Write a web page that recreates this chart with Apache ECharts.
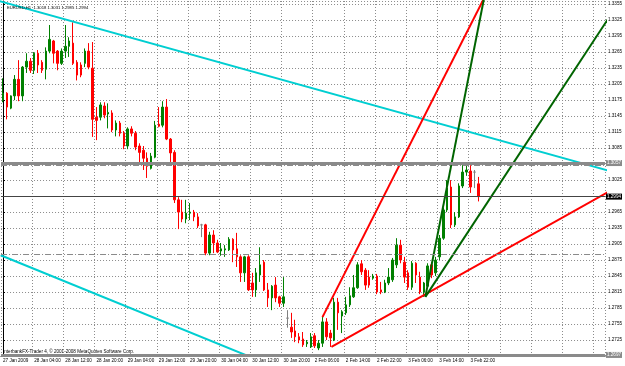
<!DOCTYPE html>
<html>
<head>
<meta charset="utf-8">
<script src="https://cdn.jsdelivr.net/npm/echarts@6/dist/echarts.min.js"></script>
<style>
html, body { margin: 0; padding: 0; background: #fff; }
#container { width: 625px; height: 366px; }
</style>
</head>
<body>
<div id="container"></div>
<script>
/* EURUSD H1 bars */
var opens = [1.3175,1.3188,1.3160,1.3183,1.3214,1.3183,1.3237,1.3248,1.3231,1.3263,
  1.3246,1.3233,1.3267,1.3286,1.3267,1.3244,1.3267,1.3276,1.3282,1.3246,
  1.3241,1.3244,1.3267,1.3235,1.3143,1.3143,1.3164,1.3149,1.3151,1.3119,
  1.3132,1.3113,1.3089,1.3121,1.3113,1.3089,1.3081,1.3066,1.3047,1.3068,
  1.3130,1.3128,1.3162,1.3102,1.3077,1.2988,1.2965,1.2952,1.2963,1.2965,
  1.2956,1.2941,1.2941,1.2888,1.2922,1.2907,1.2892,1.2894,1.2894,1.2914,
  1.2896,1.2881,1.2851,1.2881,1.2832,1.2819,1.2847,1.2871,1.2819,1.2804,
  1.2828,1.2806,1.2794,1.2766,1.2749,1.2742,1.2731,1.2727,1.2718,1.2712,
  1.2733,1.2710,1.2719,1.2759,1.2738,1.2725,1.2796,1.2770,1.2776,1.2791,
  1.2806,1.2823,1.2868,1.2856,1.2843,1.2841,1.2845,1.2819,1.2815,1.2832,
  1.2838,1.2866,1.2903,1.2871,1.2851,1.2824,1.2869,1.2843,1.2815,1.2826,
  1.2866,1.2851,1.2881,1.2916,1.2969,1.3012,1.2941,1.2956,1.3014,1.3040,
  1.3042,1.3040,1.3018];
var closes = [1.3188,1.3162,1.3183,1.3214,1.3183,1.3237,1.3248,1.3231,1.3263,1.3241,
  1.3231,1.3267,1.3289,1.3263,1.3244,1.3267,1.3276,1.3286,1.3244,1.3222,
  1.3222,1.3267,1.3237,1.3139,1.3137,1.3166,1.3147,1.3152,1.3119,1.3132,
  1.3113,1.3089,1.3121,1.3113,1.3087,1.3077,1.3066,1.3051,1.3070,1.3128,
  1.3126,1.3162,1.3102,1.3076,1.2988,1.2965,1.2952,1.2963,1.2965,1.2956,
  1.2939,1.2941,1.2888,1.2922,1.2907,1.2890,1.2896,1.2896,1.2914,1.2894,
  1.2881,1.2851,1.2881,1.2819,1.2819,1.2851,1.2866,1.2819,1.2804,1.2826,
  1.2804,1.2794,1.2806,1.2766,1.2740,1.2731,1.2725,1.2716,1.2721,1.2731,
  1.2714,1.2719,1.2759,1.2731,1.2729,1.2796,1.2776,1.2778,1.2791,1.2808,
  1.2823,1.2866,1.2853,1.2828,1.2828,1.2845,1.2815,1.2815,1.2832,1.2843,
  1.2875,1.2903,1.2875,1.2843,1.2824,1.2869,1.2847,1.2815,1.2832,1.2864,
  1.2847,1.2875,1.2916,1.2969,1.3010,1.2941,1.2956,1.3014,1.3040,1.3044,
  1.3012,1.3040,1.2994];
var lows = [1.3171,1.3139,1.3158,1.3175,1.3173,1.3173,1.3226,1.3226,1.3224,1.3226,
  1.3226,1.3214,1.3263,1.3244,1.3231,1.3241,1.3254,1.3256,1.3241,1.3212,
  1.3218,1.3237,1.3233,1.3106,1.3100,1.3137,1.3141,1.3122,1.3115,1.3107,
  1.3107,1.3083,1.3083,1.3107,1.3081,1.3059,1.3044,1.3029,1.3045,1.3066,
  1.3124,1.3124,1.3100,1.3059,1.2982,1.2933,1.2946,1.2944,1.2950,1.2948,
  1.2935,1.2918,1.2884,1.2884,1.2888,1.2888,1.2883,1.2881,1.2892,1.2871,
  1.2862,1.2834,1.2834,1.2817,1.2806,1.2806,1.2834,1.2817,1.2787,1.2781,
  1.2796,1.2787,1.2787,1.2748,1.2729,1.2721,1.2719,1.2712,1.2712,1.2710,
  1.2710,1.2706,1.2712,1.2725,1.2712,1.2723,1.2744,1.2738,1.2772,1.2787,
  1.2804,1.2821,1.2847,1.2819,1.2823,1.2838,1.2811,1.2811,1.2813,1.2828,
  1.2834,1.2860,1.2869,1.2832,1.2819,1.2819,1.2832,1.2811,1.2806,1.2823,
  1.2841,1.2845,1.2875,1.2913,1.2965,1.2935,1.2937,1.2954,1.3010,1.3033,
  1.3001,1.3010,1.2985];
var highs = [1.3216,1.3190,1.3184,1.3222,1.3250,1.3239,1.3263,1.3254,1.3265,1.3269,
  1.3250,1.3274,1.3316,1.3288,1.3269,1.3272,1.3316,1.3293,1.3321,1.3250,
  1.3246,1.3272,1.3282,1.3284,1.3162,1.3171,1.3171,1.3169,1.3156,1.3137,
  1.3136,1.3117,1.3124,1.3126,1.3117,1.3094,1.3089,1.3077,1.3076,1.3136,
  1.3162,1.3173,1.3177,1.3104,1.3081,1.2993,1.2988,1.2988,1.2982,1.2969,
  1.2963,1.2943,1.2943,1.2928,1.2931,1.2913,1.2907,1.2903,1.2918,1.2916,
  1.2926,1.2884,1.2883,1.2884,1.2851,1.2860,1.2899,1.2875,1.2832,1.2828,
  1.2843,1.2808,1.2843,1.2781,1.2776,1.2763,1.2738,1.2740,1.2725,1.2738,
  1.2738,1.2725,1.2768,1.2766,1.2744,1.2804,1.2804,1.2781,1.2806,1.2824,
  1.2847,1.2871,1.2875,1.2860,1.2856,1.2849,1.2849,1.2834,1.2838,1.2860,
  1.2879,1.2916,1.2913,1.2881,1.2856,1.2873,1.2871,1.2853,1.2834,1.2869,
  1.2871,1.2881,1.2922,1.2973,1.3025,1.3025,1.2965,1.3019,1.3053,1.3053,
  1.3053,1.3044,1.3031];

var slotCount = 155;   // bars that fit across the window incl. the empty right part
var labelStep = 8;
var tickLabels = ['27 Jan 2009','28 Jan 04:00','28 Jan 12:00','28 Jan 20:00','29 Jan 04:00',
  '29 Jan 12:00','29 Jan 20:00','30 Jan 04:00','30 Jan 12:00','30 Jan 20:00',
  '2 Feb 06:00','2 Feb 14:00','2 Feb 22:00','3 Feb 06:00','3 Feb 14:00','3 Feb 22:00'];

/* trend lines: [bar index, price] anchor pairs, drawn as rays to the right */
var cyanUpper = [[-1, 1.3361], [154.8, 1.3044]];
var cyanLower = [[-0.6, 1.2884], [58.2, 1.2709]];
var redSteep  = [[82, 1.2768], [103.7, 1.3081]];
var redBase   = [[84.3, 1.2712], [154.7, 1.3000]];
var greenSteep = [[108.4, 1.2806], [115.8, 1.3081]];
var greenMid   = [[108.4, 1.2806], [147.8, 1.3244]];

/* horizontal levels */
var levelHigh = 1.3057;
var levelBid = 1.2994;
var levelLow = 1.2697;
var dashLevels = [1.3052, 1.2886];

var titleText = 'EURUSD,H1  1.3018 1.3031 1.2985 1.2994';
var footerText = 'InterbankFX-Trader 4, \u00a9 2001-2008 MetaQuotes Software Corp.';

var dom = document.getElementById('container');
var myChart = echarts.init(dom);

var categories = [];
for (var i = 0; i < slotCount; i++) categories.push(String(i));

var candles = opens.map(function (o, i) {
    return [o, closes[i], lows[i], highs[i]];
});

function ray(line) {
    var a = line[0], b = line[1];
    var slope = (b[1] - a[1]) / (b[0] - a[0]);
    var endX = slotCount + 2;
    return [a, [endX, a[1] + slope * (endX - a[0])]];
}

function trend(name, line, color) {
    return {
        name: name,
        type: 'line',
        xAxisIndex: 1,
        yAxisIndex: 0,
        data: ray(line),
        symbol: 'none',
        clip: true,
        silent: true,
        z: 4,
        lineStyle: { color: color, width: 2 }
    };
}

var smallFont = 'Liberation Sans';
var axisFont = { fontFamily: smallFont, fontSize: 4.6, color: '#000' };

function boxLabel(bg, fg) {
    return {
        show: true,
        position: 'end',
        distance: 1,
        formatter: function (p) { return Number(p.value).toFixed(4); },
        backgroundColor: bg,
        color: fg,
        fontFamily: smallFont,
        fontSize: 4.6,
        padding: [1, 1, 0, 1]
    };
}

var option = {
    animation: false,
    backgroundColor: '#fff',
    title: {
        text: titleText,
        left: 2,
        top: 1,
        textStyle: { fontFamily: smallFont, fontSize: 4.2, fontWeight: 'normal', color: '#000' }
    },
    graphic: [{
        type: 'text',
        left: 3,
        top: 349,
        style: { text: footerText, fontFamily: smallFont, fontSize: 4.6, fill: '#000' }
    }],
    grid: { left: 1, right: 18, top: 1, bottom: 10 },
    xAxis: [{
        type: 'category',
        data: categories,
        boundaryGap: true,
        axisLine: { lineStyle: { color: '#000', width: 1 } },
        axisTick: {
            length: 2,
            interval: function (idx) { return idx % labelStep === 0; },
            lineStyle: { color: '#000' }
        },
        axisLabel: Object.assign({
            margin: 2,
            align: 'left',
            showMinLabel: true,
            hideOverlap: false,
            interval: function (idx) {
                return idx % labelStep === 0 && idx / labelStep < tickLabels.length;
            },
            formatter: function (v, idx) { return tickLabels[idx / labelStep] || ''; }
        }, axisFont),
        splitLine: {
            show: true,
            interval: function (idx) { return idx % labelStep === 0; },
            lineStyle: { color: '#8c8c8c', type: [1, 2], width: 1 }
        }
    }, {
        type: 'value',
        show: false,
        min: -0.5,
        max: slotCount - 0.5
    }],
    yAxis: {
        type: 'value',
        position: 'right',
        min: 1.2695,
        max: 1.3361,
        interval: 0.003,
        scale: true,
        axisLine: { show: true, lineStyle: { color: '#000', width: 1 } },
        axisTick: { show: true, length: 2, lineStyle: { color: '#000' } },
        axisLabel: Object.assign({
            margin: 3,
            showMinLabel: false,
            showMaxLabel: false,
            formatter: function (v) {
                if (Math.abs(v - 1.3055) < 1e-6 || Math.abs(v - 1.2995) < 1e-6) return '';
                return v.toFixed(4);
            }
        }, axisFont),
        splitLine: { show: true, lineStyle: { color: '#8c8c8c', type: [1, 2], width: 1 } }
    },
    series: [{
        name: 'EURUSD,H1',
        type: 'candlestick',
        data: candles,
        barWidth: 2,
        z: 3,
        itemStyle: {
            color: '#008000',
            color0: '#ff0000',
            borderColor: '#008000',
            borderColor0: '#ff0000',
            borderColorDoji: '#808080',
            borderWidth: 1
        },
        markLine: {
            silent: true,
            symbol: 'none',
            precision: 4,
            animation: false,
            data: [
                { yAxis: levelHigh, lineStyle: { color: '#8a8a8a', width: 3, type: 'solid' }, label: boxLabel('#8a8a8a', '#fff') },
                { yAxis: dashLevels[0], lineStyle: { color: '#8a8a8a', width: 1, type: [6, 2, 1, 2] }, label: { show: false } },
                { yAxis: dashLevels[1], lineStyle: { color: '#8a8a8a', width: 1, type: [6, 2, 1, 2] }, label: { show: false } },
                { yAxis: levelBid, lineStyle: { color: '#444', width: 1, type: 'solid' }, label: boxLabel('#000', '#fff') },
                { yAxis: levelLow, lineStyle: { color: '#8a8a8a', width: 3, type: 'solid' }, label: boxLabel('#8a8a8a', '#fff') }
            ]
        }
    },
    trend('cyan upper', cyanUpper, '#00ced1'),
    trend('cyan lower', cyanLower, '#00ced1'),
    trend('red steep', redSteep, '#ff0000'),
    trend('red base', redBase, '#ff0000'),
    trend('green steep', greenSteep, '#006400'),
    trend('green mid', greenMid, '#006400')
    ]
};

myChart.setOption(option);
</script>
</body>
</html>
